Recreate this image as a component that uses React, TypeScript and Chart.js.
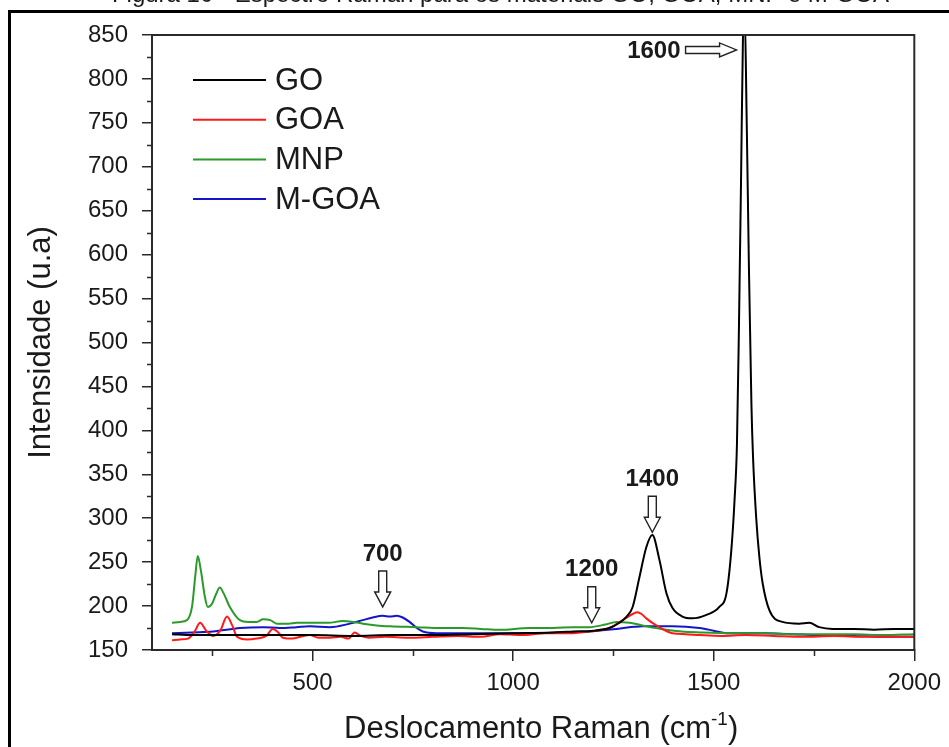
import React, { useEffect, useRef } from 'react';
import { Chart, registerables } from 'chart.js';

Chart.register(...registerables);

const FONT = '"Liberation Sans", Arial, Helvetica, sans-serif';
const TEXT_COLOR = '#1a1a1a';
const AXIS_COLOR = '#2a2a2a';

const CAPTION = 'Figura 10 - Espectro Raman para os materiais GO, GOA, MNP e M-GOA';
const X_TITLE = 'Deslocamento Raman (cm';
const X_TITLE_SUP = '-1';
const Y_TITLE = 'Intensidade (u.a)';

const X_TICKS = [500, 1000, 1500, 2000];
const X_MINOR = [250, 750, 1250, 1750];
const Y_TICKS = [150, 200, 250, 300, 350, 400, 450, 500, 550, 600, 650, 700, 750, 800, 850];
const Y_MINOR = [175, 225, 275, 325, 375, 425, 475, 525, 575, 625, 675, 725, 775, 825];

const SERIES_NAMES = ['GO', 'GOA', 'MNP', 'M-GOA'];
const SERIES_COLORS = ['#000000', '#ff1a1a', '#2a9a2a', '#1414c8'];

const GO_X = [150, 200, 300, 400, 500, 600, 700, 800, 900, 1000, 1100, 1150, 1200, 1240, 1265, 1283, 1298, 1315, 1332, 1347, 1365, 1382, 1397, 1422, 1447, 1482, 1514, 1532, 1544, 1552, 1558, 1563, 1568, 1573, 1577, 1582, 1588, 1594, 1598, 1606, 1614, 1622, 1639, 1671, 1713, 1738, 1763, 1796, 1850, 1900, 1950, 2000];
const GO_Y = [168, 167, 167, 167, 167, 166, 167, 167, 168, 169, 170, 171, 172, 175, 181, 188, 199, 233, 267, 281, 252, 215, 198, 188, 186, 190, 199, 215, 264, 321, 385, 520, 680, 850, 880, 760, 580, 430, 370, 300, 255, 226, 195, 182, 180, 181, 176, 174, 174, 173, 174, 174];

const GOA_X = [150, 170, 190, 205, 220, 235, 252, 270, 287, 300, 312, 337, 360, 385, 401, 415, 426, 450, 470, 493, 515, 543, 570, 590, 605, 620, 640, 680, 740, 800, 860, 920, 966, 1020, 1080, 1140, 1190, 1240, 1273, 1298, 1310, 1320, 1332, 1357, 1397, 1430, 1465, 1520, 1580, 1650, 1720, 1800, 1880, 1940, 2000];
const GOA_Y = [161, 162, 163, 170, 181, 172, 166, 172, 188, 178, 165, 162, 163, 166, 174, 170, 164, 163, 165, 167, 164, 164, 165, 163, 170, 166, 164, 165, 164, 165, 166, 165, 168, 167, 169, 169, 171, 175, 184, 191, 193, 191, 186, 178, 169, 168, 167, 166, 167, 166, 165, 166, 165, 165, 165];

const MNP_X = [150, 170, 187, 200, 208, 214, 222, 232, 239, 250, 260, 269, 278, 294, 319, 340, 361, 377, 395, 411, 440, 461, 501, 540, 576, 600, 626, 660, 693, 760, 820, 875, 920, 966, 1041, 1100, 1150, 1190, 1230, 1258, 1290, 1332, 1382, 1420, 1465, 1550, 1620, 1700, 1780, 1850, 1920, 2000];
const MNP_Y = [181, 182, 184, 200, 235, 257, 240, 210, 199, 203, 214, 221, 215, 199, 184, 182, 182, 185, 184, 180, 180, 181, 181, 181, 183, 182, 180, 178, 177, 176, 175, 175, 174, 173, 175, 175, 176, 176, 179, 182, 181, 177, 173, 171, 170, 169, 169, 168, 168, 168, 167, 168];

const MGOA_X = [150, 200, 252, 319, 377, 419, 460, 493, 543, 593, 625, 650, 675, 693, 710, 725, 742, 760, 775, 809, 860, 900, 966, 1041, 1120, 1190, 1258, 1323, 1397, 1465, 1500, 1532, 1580, 1631, 1700, 1750, 1850, 1930, 2000];
const MGOA_Y = [169, 170, 171, 175, 176, 175, 176, 177, 176, 180, 184, 187, 189, 188, 189, 187, 182, 175, 171, 169, 169, 169, 169, 169, 170, 171, 174, 177, 177, 175, 172, 169, 169, 169, 168, 167, 166, 165, 165];

const ANNOT_LABELS = ['1600', '1400', '1200', '700'];
const ANNOT_X = [1557, 1347, 1196, 675];
const ANNOT_Y = [833, 284, 181, 199];
const ANNOT_DIR = ['right', 'down', 'down', 'down'];

const SERIES_X = [GO_X, GOA_X, MNP_X, MGOA_X];
const SERIES_Y = [GO_Y, GOA_Y, MNP_Y, MGOA_Y];

const decorPlugin = {
  id: 'decor',
  afterDatasetsDraw(chart: any) {
    const { ctx, chartArea: a, scales } = chart;
    const xs = scales.x;
    const ys = scales.y;
    ctx.save();

    // box top & right
    ctx.strokeStyle = AXIS_COLOR;
    ctx.lineWidth = 2;
    ctx.beginPath();
    ctx.moveTo(a.left, a.top);
    ctx.lineTo(a.right, a.top);
    ctx.lineTo(a.right, a.bottom);
    ctx.stroke();

    // minor ticks
    ctx.lineWidth = 1.5;
    ctx.beginPath();
    X_MINOR.forEach((v) => {
      const px = Math.round(xs.getPixelForValue(v)) + 0.5;
      ctx.moveTo(px, a.bottom);
      ctx.lineTo(px, a.bottom + 6);
    });
    Y_MINOR.forEach((v) => {
      const py = Math.round(ys.getPixelForValue(v)) + 0.5;
      ctx.moveTo(a.left, py);
      ctx.lineTo(a.left - 5, py);
    });
    ctx.stroke();

    // legend
    const ds = chart.data.datasets;
    ctx.font = `31px ${FONT}`;
    ctx.textBaseline = 'middle';
    ctx.textAlign = 'left';
    ds.forEach((d: any, i: number) => {
      const y = a.top + 45 + i * 39.7;
      ctx.strokeStyle = d.borderColor;
      ctx.lineWidth = 2;
      ctx.beginPath();
      ctx.moveTo(a.left + 41, y);
      ctx.lineTo(a.left + 114, y);
      ctx.stroke();
      ctx.fillStyle = TEXT_COLOR;
      ctx.fillText(d.label, a.left + 123, y + 1);
    });

    // annotations
    ctx.font = `bold 24px ${FONT}`;
    ANNOT_LABELS.forEach((lab, i) => {
      const tx = xs.getPixelForValue(ANNOT_X[i]);
      const ty = ys.getPixelForValue(ANNOT_Y[i]);
      ctx.fillStyle = '#ffffff';
      ctx.strokeStyle = '#222222';
      ctx.lineWidth = 1.4;
      ctx.beginPath();
      if (ANNOT_DIR[i] === 'down') {
        const L = 36, hl = 15, hw = 8, sw = 4;
        ctx.moveTo(tx - sw, ty - L);
        ctx.lineTo(tx + sw, ty - L);
        ctx.lineTo(tx + sw, ty - hl);
        ctx.lineTo(tx + hw, ty - hl);
        ctx.lineTo(tx, ty);
        ctx.lineTo(tx - hw, ty - hl);
        ctx.lineTo(tx - sw, ty - hl);
        ctx.closePath();
        ctx.fill();
        ctx.stroke();
        ctx.fillStyle = TEXT_COLOR;
        ctx.textAlign = 'center';
        ctx.textBaseline = 'middle';
        ctx.fillText(lab, tx, ty - L - 17);
      } else {
        const L = 51, hl = 17, hh = 7, sh = 3.5;
        ctx.moveTo(tx - L, ty - sh);
        ctx.lineTo(tx - hl, ty - sh);
        ctx.lineTo(tx - hl, ty - hh);
        ctx.lineTo(tx, ty);
        ctx.lineTo(tx - hl, ty + hh);
        ctx.lineTo(tx - hl, ty + sh);
        ctx.lineTo(tx - L, ty + sh);
        ctx.closePath();
        ctx.fill();
        ctx.stroke();
        ctx.fillStyle = TEXT_COLOR;
        ctx.textAlign = 'right';
        ctx.textBaseline = 'middle';
        ctx.fillText(lab, tx - L - 5, ty + 1);
      }
    });

    // x title with superscript
    const big = `31px ${FONT}`;
    const small = `19px ${FONT}`;
    ctx.textBaseline = 'alphabetic';
    ctx.textAlign = 'left';
    ctx.font = big;
    const w1 = ctx.measureText(X_TITLE).width;
    const w3 = ctx.measureText(')').width;
    ctx.font = small;
    const w2 = ctx.measureText(X_TITLE_SUP).width;
    const total = w1 + w2 + w3;
    const cx = (a.left + a.right) / 2 + 8;
    const base = chart.height - 9;
    let x0 = cx - total / 2;
    ctx.fillStyle = TEXT_COLOR;
    ctx.font = big;
    ctx.fillText(X_TITLE, x0, base);
    x0 += w1;
    ctx.font = small;
    ctx.fillText(X_TITLE_SUP, x0, base - 13);
    x0 += w2;
    ctx.font = big;
    ctx.fillText(')', x0, base);

    ctx.restore();
  },
};

export default function App() {
  const canvasRef = useRef<HTMLCanvasElement | null>(null);

  useEffect(() => {
    const canvas = canvasRef.current;
    if (!canvas) return;
    const datasets = SERIES_NAMES.map((name, i) => ({
      label: name,
      data: SERIES_X[i].map((x, j) => ({ x, y: SERIES_Y[i][j] })),
      borderColor: SERIES_COLORS[i],
      backgroundColor: SERIES_COLORS[i],
      borderWidth: 2,
      pointRadius: 0,
      fill: false,
      tension: 0.4,
      cubicInterpolationMode: 'monotone' as const,
    }));
    const chart = new Chart(canvas, {
      type: 'line',
      data: { datasets },
      options: {
        responsive: false,
        animation: false,
        devicePixelRatio: 1,
        layout: { padding: { left: 0, right: 34, top: 35, bottom: 0 } },
        plugins: {
          legend: { display: false },
          tooltip: { enabled: false },
          title: { display: false },
        },
        scales: {
          x: {
            type: 'linear',
            position: 'bottom',
            min: 100,
            max: 2000,
            afterBuildTicks: (s: any) => {
              s.ticks = X_TICKS.map((v) => ({ value: v }));
            },
            afterFit: (s: any) => {
              s.height = 97;
            },
            grid: {
              drawOnChartArea: false,
              drawTicks: true,
              tickLength: 11,
              color: AXIS_COLOR,
              lineWidth: 1.5,
            },
            border: { display: true, color: AXIS_COLOR, width: 2 },
            ticks: {
              font: { size: 24, family: FONT },
              color: TEXT_COLOR,
              padding: 8,
              maxRotation: 0,
              autoSkip: false,
              callback: (v: any) => String(v),
            },
          },
          y: {
            type: 'linear',
            position: 'left',
            min: 150,
            max: 850,
            afterBuildTicks: (s: any) => {
              s.ticks = Y_TICKS.map((v) => ({ value: v }));
            },
            afterFit: (s: any) => {
              s.width = 152;
            },
            grid: {
              drawOnChartArea: false,
              drawTicks: true,
              tickLength: 10,
              color: AXIS_COLOR,
              lineWidth: 1.5,
            },
            border: { display: true, color: AXIS_COLOR, width: 2 },
            title: {
              display: true,
              text: Y_TITLE,
              font: { size: 31, family: FONT },
              color: TEXT_COLOR,
              padding: { top: 23, bottom: 0 },
            },
            ticks: {
              font: { size: 24, family: FONT },
              color: TEXT_COLOR,
              padding: 14,
              autoSkip: false,
              callback: (v: any) => String(v),
            },
          },
        },
      },
      plugins: [decorPlugin],
    });
    return () => chart.destroy();
  }, []);

  return (
    <div
      style={{
        position: 'fixed',
        left: 0,
        top: 0,
        width: 949,
        height: 747,
        overflow: 'hidden',
        background: '#ffffff',
      }}
    >
      <canvas
        ref={canvasRef}
        width={949}
        height={747}
        style={{ position: 'absolute', left: 0, top: 0, width: 949, height: 747, display: 'block' }}
      />
      <div
        style={{
          position: 'absolute',
          left: 26,
          top: -18,
          width: 949,
          textAlign: 'center',
          fontFamily: FONT,
          fontSize: 24,
          lineHeight: '24px',
          color: TEXT_COLOR,
          whiteSpace: 'nowrap',
        }}
      >
        {CAPTION}
      </div>
      <div
        style={{
          position: 'absolute',
          left: 8,
          top: 10,
          width: 960,
          height: 800,
          borderTop: '3px solid #000',
          borderLeft: '3px solid #000',
          pointerEvents: 'none',
        }}
      />
    </div>
  );
}
